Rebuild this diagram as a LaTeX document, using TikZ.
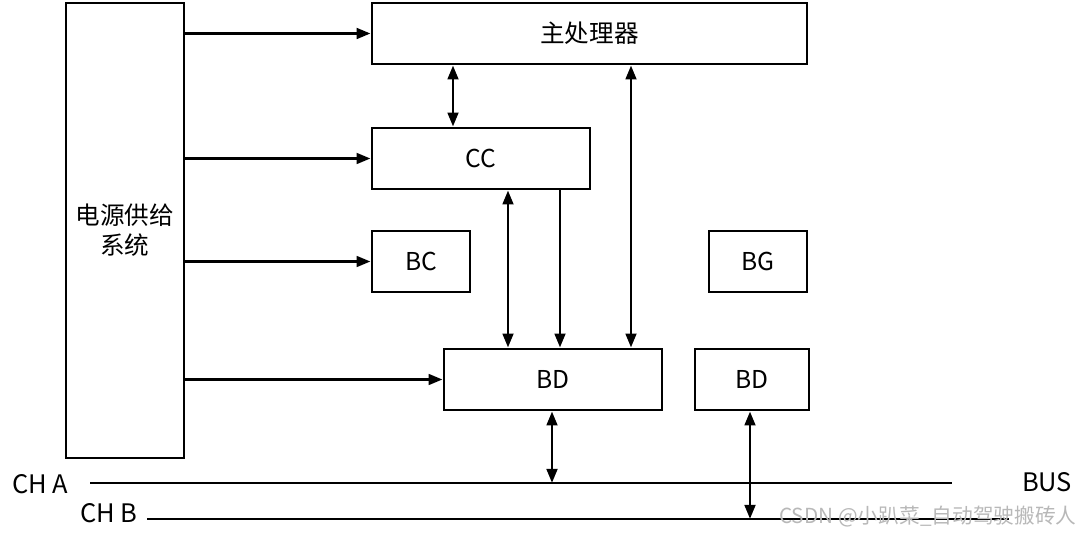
\documentclass[tikz,border=0pt]{standalone}
\usepackage{fontspec}
\setmainfont{Noto Sans CJK SC}
\usetikzlibrary{arrows.meta}

\begin{document}
\begin{tikzpicture}[
  x=0.02cm, y=-0.02cm,
  line width=1.7pt,  >={Triangle[length=8pt,width=6pt]},
  box/.style={rectangle,draw,line width=1.6pt,minimum height=1.22cm,inner sep=0pt,font=\fontsize{14}{17}\selectfont},
  lbl/.style={inner sep=0pt,font=\fontsize{14.5}{17}\selectfont},
  wmark/.style={inner sep=0pt,text=black!28,font=\fontsize{11.8}{13}\selectfont}
]
  \useasboundingbox (0,0) rectangle (1080,537);
  \node[box,minimum width=2.36cm,minimum height=9.1cm,align=center] (psu) at (125,230.5) {电源供给\\系统};
  \node[box,minimum width=8.7cm] (cpu) at (589.5,33.5) {主处理器};
  \node[box,minimum width=4.36cm] (cc) at (481,158.5) {CC};
  \node[box,minimum width=1.96cm] (bc) at (421,261.5) {BC};
  \node[box,minimum width=1.96cm] (bg) at (758,261.5) {BG};
  \node[box,minimum width=4.36cm] (bd) at (553,379.5) {BD};
  \node[box,minimum width=2.28cm] (bdb) at (752,379.5) {BD};
  % bus lines
  \coordinate (chAl) at (90,483);
  \coordinate (chAr) at (952,483);
  \coordinate (chBl) at (147,519);
  \coordinate (chBr) at (1009,519);
  \node[lbl] (labA) at (40,484) {CH A};
  \node[lbl] (labB) at (109,513) {CH B};
  \node[lbl] (labBus) at (1047,482) {BUS};
  \draw (chAl) -- (chAr);
  \draw (chBl) -- (chBr);
  % power feeds
  \draw[->] (psu.east |- cpu.west) -- (cpu.west);
  \draw[->] (psu.east |- cc.west) -- (cc.west);
  \draw[->] (psu.east |- bc.west) -- (bc.west);
  \draw[->] (psu.east |- bd.west) -- (bd.west);
  % links
  \draw[<->] (453,0 |- cpu.south) -- (453,0 |- cc.north);
  \draw[<->] (508,0 |- cc.south) -- (508,0 |- bd.north);
  \draw[->] (560,0 |- cc.south) -- (560,0 |- bd.north);
  \draw[<->] (631,0 |- cpu.south) -- (631,0 |- bd.north);
  \draw[<->] (552,0 |- bd.south) -- (552,0 |- chAl);
  \draw[<->] (750,0 |- bdb.south) -- (750,0 |- chBl);
  \node[wmark] (wm) at (928,517) {CSDN @小趴菜\_自动驾驶搬砖人};
\end{tikzpicture}
\end{document}
